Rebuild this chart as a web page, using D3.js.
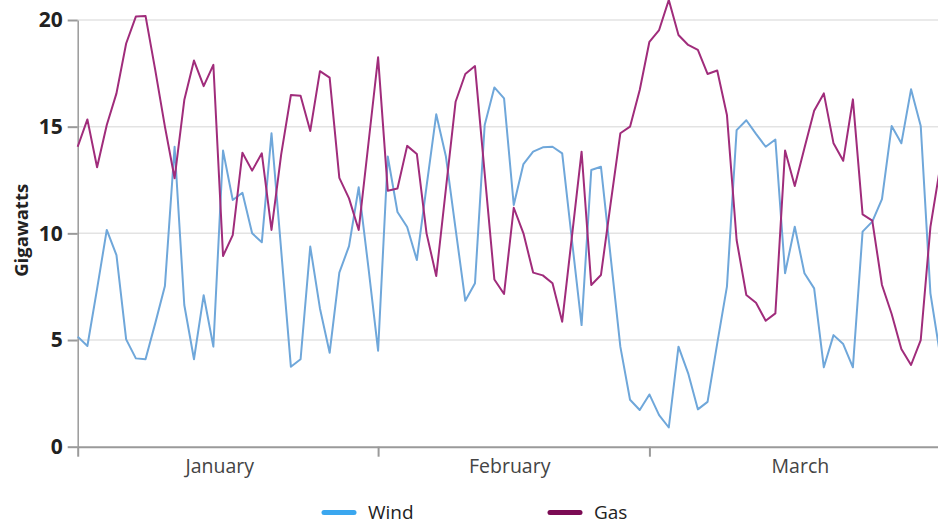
<!DOCTYPE html>
<html>
<head>
<meta charset="utf-8">
<script src="https://cdn.jsdelivr.net/npm/d3@7"></script>
<style>
  html, body { margin: 0; padding: 0; background: #fff; }
  svg { display: block; font-family: "Open Sans", "Lato", sans-serif; }
</style>
</head>
<body>
<svg id="chart" width="938" height="521"></svg>
<script>
// ---- data ----
const startDate = "2023-01-01";
const dayCount = 90;
const wind = [5.16, 4.72, 7.4, 10.16, 8.98, 5.03, 4.14, 4.1, 5.78, 7.53,
  14.06, 6.64, 4.1, 7.1, 4.69, 13.88, 11.56, 11.9, 10.0, 9.58,
  14.69, 9.2, 3.75, 4.1, 9.38, 6.48, 4.4, 8.16, 9.4, 12.16,
  8.4, 4.5, 13.6, 11.0, 10.3, 8.75, 12.2, 15.58, 13.6, 10.2,
  6.84, 7.66, 15.08, 16.84, 16.33, 11.33, 13.25, 13.83, 14.03, 14.06,
  13.75, 9.7, 5.7, 12.97, 13.12, 8.9, 4.69, 2.2, 1.72, 2.45,
  1.48, 0.9, 4.69, 3.44, 1.75, 2.1, 4.84, 7.5, 14.84, 15.3,
  14.66, 14.06, 14.4, 8.13, 10.31, 8.13, 7.42, 3.72, 5.23, 4.81,
  3.72, 10.08, 10.55, 11.6, 15.03, 14.22, 16.75, 15.03, 7.19, 4.3];
const gas = [14.06, 15.34, 13.1, 15.08, 16.56, 18.9, 20.16, 20.19, 17.66, 15.0,
  12.58, 16.25, 18.1, 16.9, 17.9, 8.94, 9.92, 13.78, 12.94, 13.75,
  10.16, 13.7, 16.48, 16.45, 14.8, 17.6, 17.3, 12.6, 11.64, 10.16,
  14.2, 18.25, 12.0, 12.1, 14.1, 13.72, 10.0, 8.0, 12.1, 16.17,
  17.47, 17.84, 12.8, 7.84, 7.16, 11.2, 10.0, 8.16, 8.03, 7.66,
  5.86, 9.84, 13.83, 7.58, 8.05, 11.4, 14.69, 15.0, 16.72, 18.98,
  19.53, 20.94, 19.3, 18.83, 18.6, 17.47, 17.63, 15.55, 9.69, 7.11,
  6.75, 5.9, 6.25, 13.88, 12.22, 14.0, 15.75, 16.56, 14.22, 13.4,
  16.28, 10.89, 10.6, 7.58, 6.22, 4.58, 3.83, 5.0, 10.3, 13.1];
const yTicks = [0, 5, 10, 15, 20];
const monthTicks = ["2023-01-01", "2023-02-01", "2023-03-01"];
const monthLabels = ["January", "February", "March"];
const monthLabelDates = ["2023-01-15T16:00", "2023-02-14T14:00", "2023-03-16T14:00"];
const seriesNames = ["Wind", "Gas"];
const lineColors = ["#6fa7da", "#a02c7b"];
const legendColors = ["#3ba7ef", "#7b0b54"];

// ---- build ----
const parse = d3.isoParse;
const t0 = parse(startDate);
const dates = d3.range(dayCount).map(i => d3.timeDay.offset(t0, i));

const svg = d3.select("#chart");
const mLeft = 77.7, mTop = 20, mBottom = 446.7;
const x = d3.scaleTime()
  .domain([dates[0], dates[dates.length - 1]])
  .range([mLeft, mLeft + 89 * 9.69]);
const y = d3.scaleLinear().domain([0, 20]).range([mBottom, mTop]);

// gridlines
svg.append("g")
  .selectAll("line")
  .data(yTicks.filter(d => d > 0))
  .join("line")
  .attr("x1", mLeft).attr("x2", 938)
  .attr("y1", d => y(d)).attr("y2", d => y(d))
  .attr("stroke", "#e3e3e3").attr("stroke-width", 1.5);

// y axis
const yAxis = svg.append("g")
  .attr("transform", `translate(${mLeft},0)`)
  .call(d3.axisLeft(y).tickValues(yTicks).tickSize(10).tickPadding(5).tickSizeOuter(0));
yAxis.select(".domain").attr("stroke", "#9a9a9a").attr("stroke-width", 1.5);
yAxis.selectAll(".tick line").attr("stroke", "#9a9a9a").attr("stroke-width", 2);
yAxis.selectAll(".tick text")
  .attr("fill", "#222").attr("font-size", 21).attr("font-weight", 700)
  .attr("font-family", "'Open Sans', sans-serif");

// x axis
const xAxis = svg.append("g")
  .attr("transform", `translate(0,${mBottom})`)
  .call(d3.axisBottom(x).tickValues(monthTicks.map(parse)).tickSize(10).tickFormat("").tickSizeOuter(0));
xAxis.select(".domain").attr("stroke", "#9a9a9a").attr("stroke-width", 2)
  .attr("d", `M${mLeft},0.5H938`);
xAxis.selectAll(".tick line").attr("stroke", "#9a9a9a").attr("stroke-width", 2);

svg.append("g")
  .selectAll("text")
  .data(monthLabels)
  .join("text")
  .attr("x", (d, i) => x(parse(monthLabelDates[i])))
  .attr("y", 472.5)
  .attr("text-anchor", "middle")
  .attr("font-size", 19.5)
  .attr("fill", "#444")
  .text(d => d);

// y label
svg.append("text")
  .attr("transform", `translate(27.5,${(mTop + mBottom) / 2 - 3}) rotate(-90)`)
  .attr("text-anchor", "middle")
  .attr("font-size", 18.5)
  .attr("font-weight", 700)
  .attr("fill", "#222")
  .text("Gigawatts");

// lines
const line = d3.line().x((d, i) => x(dates[i])).y(d => y(d));
[wind, gas].forEach((s, k) => {
  svg.append("path")
    .datum(s)
    .attr("fill", "none")
    .attr("stroke", lineColors[k])
    .attr("stroke-width", 2)
    .attr("stroke-linejoin", "round")
    .attr("d", line);
});

// legend
const legendX = [324, 550];
const lg = svg.append("g").selectAll("g").data(seriesNames).join("g")
  .attr("transform", (d, i) => `translate(${legendX[i]},512.5)`);
lg.append("line")
  .attr("x1", 0).attr("x2", 30).attr("y1", 0).attr("y2", 0)
  .attr("stroke", (d, i) => legendColors[i])
  .attr("stroke-width", 5).attr("stroke-linecap", "round");
lg.append("text")
  .attr("x", 44).attr("y", 6)
  .attr("font-size", 19).attr("fill", "#222")
  .text(d => d);
</script>
</body>
</html>
